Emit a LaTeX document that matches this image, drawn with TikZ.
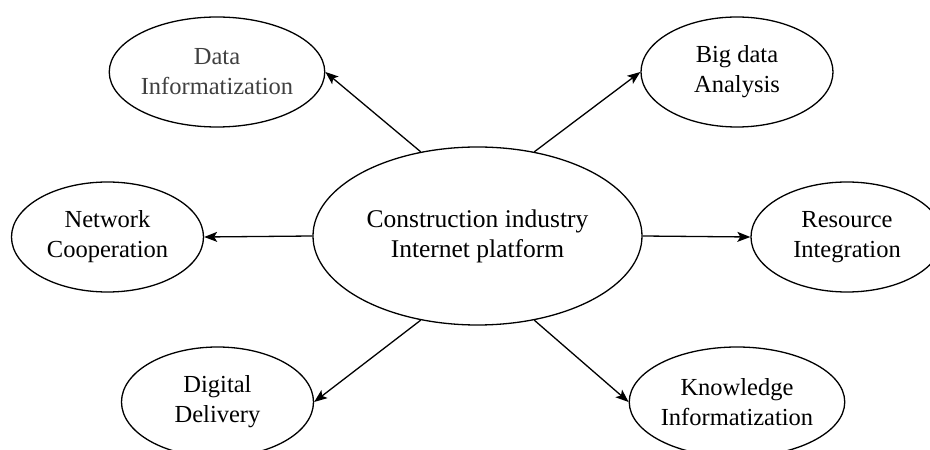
\documentclass[tikz,border=0pt]{standalone}
\usepackage{fontspec}
\setmainfont{Liberation Serif}
\usetikzlibrary{shapes.geometric,arrows.meta}
\begin{document}
\begin{tikzpicture}[x=1pt,y=1pt,
  hub/.style={ellipse,draw,line width=1.3pt,inner sep=0pt,
    minimum width=329pt,minimum height=178pt,align=center,
    font=\fontsize{25.5}{30}\selectfont},
  leaf/.style={ellipse,draw,line width=1.3pt,inner sep=0pt,
    minimum width=192pt,minimum height=110pt,align=center,
    font=\fontsize{24.5}{30}\selectfont},
  arr/.style={line width=1.3pt,-{Stealth[length=13pt,width=10pt,inset=3pt]}}]
\useasboundingbox (0,0) rectangle (930,450);
\clip (0,0) rectangle (930,450);

% central platform
\node[hub] (c) at (477.5,214) {Construction industry\\Internet platform};

% surrounding functions
\node[leaf,text=black!75] (d) at (217,378) {Data\\Informatization};
\node[leaf] (b) at (737,378) {Big data\\Analysis};
\node[leaf] (n) at (107.5,213) {Network\\Cooperation};
\node[leaf] (r) at (847,213) {Resource\\Integration};
\node[leaf] (g) at (217.5,48) {Digital\\Delivery};
\node[leaf] (k) at (737,48) {Knowledge\\Informatization};

% connectors
\draw[arr] (c.124) -- (d.east);
\draw[arr] (c.56) -- (b.west);
\draw[arr] (c.west) -- (n.east);
\draw[arr] (c.east) -- (r.west);
\draw[arr] (c.236) -- (g.east);
\draw[arr] (c.304) -- (k.west);
\end{tikzpicture}
\end{document}
